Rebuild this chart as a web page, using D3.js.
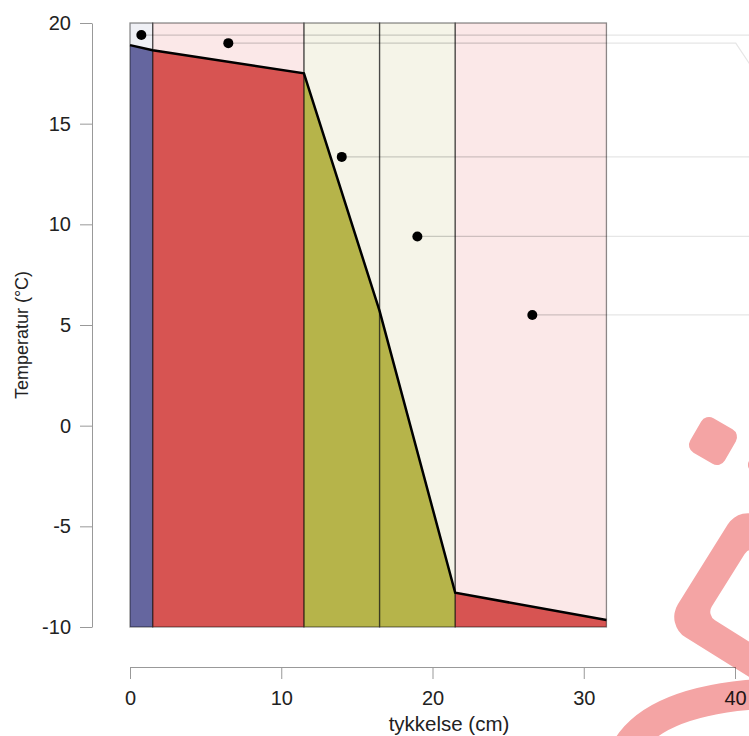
<!DOCTYPE html>
<html>
<head>
<meta charset="utf-8">
<script src="https://cdn.jsdelivr.net/npm/d3@7"></script>
<style>
  body { margin: 0; background: #fff; }
  svg text { font-family: "Liberation Sans", Arial, sans-serif; fill: #222; }
</style>
</head>
<body>
<script>
    // layer boundaries (cm) and temperature at each boundary (°C)
    var boundaries = [0, 1.5, 11.5, 16.5, 21.5, 31.5];
    var boundaryTemp = [18.9, 18.65, 17.5, 5.7, -8.3, -9.65];
    var layerMaterial = ["blue", "red", "olive", "olive", "red"];

    // labelled points
    var pointX = [0.75, 6.5, 14, 19, 26.6];
    var pointY = [19.4, 19.0, 13.35, 9.4, 5.5];
    // where each leader line bends (cm) and ends off-canvas (°C)
    var leaderBendX = [40, 40.05, 40, 40, 40];
    var leaderEndY = [19.4, 16.8, 13.35, 9.4, 5.5];

    var xTicks = [0, 10, 20, 30, 40];
    var yTicks = [-10, -5, 0, 5, 10, 15, 20];

    var fillColor = { blue: "#65669f", red: "#d75452", olive: "#b6b44a" };
    var bgColor = { blue: "#eff0f5", red: "#fbe8e8", olive: "#f5f4e8" };

    var width = 749, height = 736;

    var svg = d3.select("body").append("svg")
        .attr("width", width)
        .attr("height", height);

    var x = d3.scaleLinear().domain([0, 40]).range([130, 735]);
    var y = d3.scaleLinear().domain([-10, 20]).range([627, 23]);

    var layers = layerMaterial.map(function(m, i) {
        return { m: m, x0: boundaries[i], x1: boundaries[i + 1],
                 t0: boundaryTemp[i], t1: boundaryTemp[i + 1] };
    });

    // leader lines, faint outside the plot
    var leaders = svg.append("g");
    pointX.forEach(function(px, i) {
        var pts = [[x(px), y(pointY[i])], [x(leaderBendX[i]), y(pointY[i])],
                   [x(42), y(leaderEndY[i])]];
        leaders.append("path")
            .attr("d", d3.line()(pts))
            .attr("fill", "none")
            .attr("stroke", "#e6e6e6")
            .attr("stroke-width", 1.2);
    });

    // layer backgrounds
    var g = svg.append("g");
    g.selectAll("rect.bg")
        .data(layers)
        .enter().append("rect")
        .attr("class", "bg")
        .attr("x", function(d) { return x(d.x0); })
        .attr("width", function(d) { return x(d.x1) - x(d.x0); })
        .attr("y", y(20))
        .attr("height", y(-10) - y(20))
        .attr("fill", function(d) { return bgColor[d.m]; });

    // filled area under temperature line
    g.selectAll("path.fill")
        .data(layers)
        .enter().append("path")
        .attr("class", "fill")
        .attr("d", function(d) {
            return d3.line()([[x(d.x0), y(-10)], [x(d.x0), y(d.t0)],
                              [x(d.x1), y(d.t1)], [x(d.x1), y(-10)]]) + "Z";
        })
        .attr("fill", function(d) { return fillColor[d.m]; });

    // leader lines inside the plot are darker
    pointX.forEach(function(px, i) {
        g.append("line")
            .attr("x1", x(px)).attr("x2", x(31.5))
            .attr("y1", y(pointY[i])).attr("y2", y(pointY[i]))
            .attr("stroke", "rgba(0,0,0,0.18)")
            .attr("stroke-width", 1.2);
    });

    // layer outlines
    g.selectAll("rect.edge")
        .data(layers)
        .enter().append("rect")
        .attr("class", "edge")
        .attr("x", function(d) { return x(d.x0); })
        .attr("width", function(d) { return x(d.x1) - x(d.x0); })
        .attr("y", y(20))
        .attr("height", y(-10) - y(20))
        .attr("fill", "none")
        .attr("stroke", "rgba(0,0,0,0.45)")
        .attr("stroke-width", 1.3);

    // temperature profile
    g.append("path")
        .attr("d", d3.line()(boundaries.map(function(b, i) { return [x(b), y(boundaryTemp[i])]; })))
        .attr("fill", "none")
        .attr("stroke", "#000")
        .attr("stroke-width", 2.5);

    g.selectAll("circle")
        .data(pointX)
        .enter().append("circle")
        .attr("cx", function(d) { return x(d); })
        .attr("cy", function(d, i) { return y(pointY[i]); })
        .attr("r", 5)
        .attr("fill", "#000");

    // axes
    var plain = function(d) { return String(d); };
    var yAxis = svg.append("g")
        .attr("transform", "translate(92,0)")
        .call(d3.axisLeft(y).tickValues(yTicks).tickFormat(plain)
            .tickSize(12).tickSizeOuter(0).tickPadding(9));
    var xAxis = svg.append("g")
        .attr("transform", "translate(0,667)")
        .call(d3.axisBottom(x).tickValues(xTicks).tickFormat(plain)
            .tickSize(12).tickSizeOuter(0).tickPadding(12));
    [xAxis, yAxis].forEach(function(a) {
        a.selectAll("path, line").attr("stroke", "#999");
        a.selectAll("text").style("font-size", "20px").attr("fill", "#222");
    });

    svg.append("text")
        .attr("x", 449).attr("y", 731)
        .attr("text-anchor", "middle")
        .style("font-size", "20.5px")
        .text("tykkelse (cm)");
    svg.append("text")
        .attr("transform", "translate(28,335) rotate(-90)")
        .attr("text-anchor", "middle")
        .style("font-size", "18px")
        .text("Temperatur (°C)");

    // translucent pink logo fragment at the right edge
    function roundSquare(s, r) {
        var p = d3.path();
        p.moveTo(-s + r, -s);
        p.arcTo(s, -s, s, s, r);
        p.arcTo(s, s, -s, s, r);
        p.arcTo(-s, s, -s, -s, r);
        p.arcTo(-s, -s, s, -s, r);
        p.closePath();
        return p.toString();
    }
    var mark = svg.append("g").style("mix-blend-mode", "multiply").attr("fill", "#f4a4a4");
    mark.append("path")
        .attr("d", roundSquare(20, 9))
        .attr("transform", "translate(713,441) rotate(30)");
    mark.append("path")
        .attr("d", roundSquare(20, 9))
        .attr("transform", "translate(772,461) rotate(30)");
    mark.append("path")
        .attr("d", roundSquare(71, 24) + roundSquare(41, 10))
        .attr("fill-rule", "evenodd")
        .attr("transform", "translate(763,602) rotate(32)");
    mark.append("path")
        .attr("d", "M628,746 C650,712 700,698 760,694")
        .attr("fill", "none")
        .attr("stroke", "#f4a4a4")
        .attr("stroke-width", 30);
</script>
</body>
</html>
